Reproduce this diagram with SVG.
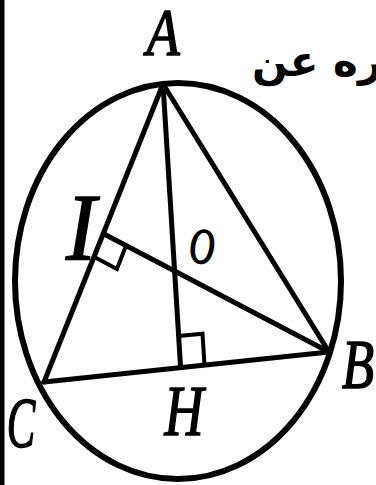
<svg xmlns="http://www.w3.org/2000/svg" width="376" height="485" viewBox="0 0 376 485">
<style>
.ln{stroke:#000;stroke-width:5;stroke-linecap:round;fill:none}
.sq{stroke:#000;stroke-width:4;fill:none;stroke-linejoin:miter}
.lbl{font-family:"Liberation Serif",serif;font-style:italic;font-weight:normal;fill:#000;stroke:#000;stroke-width:1.6;text-anchor:middle}
.ar{font-family:"DejaVu Sans",sans-serif;font-size:42px;font-weight:bold;fill:#000}
</style>
<rect width="376" height="485" fill="#fff"/>
<rect x="0" y="0" width="4.5" height="485" fill="#000"/>
<g id="circle"><ellipse cx="178" cy="281" rx="163" ry="198" fill="none" stroke="#000" stroke-width="6"/></g>
<g id="connectors">
<line class="ln" x1="163" y1="84" x2="329" y2="352"/>
<line class="ln" x1="163" y1="84" x2="44" y2="382"/>
<line class="ln" x1="44" y1="382" x2="329" y2="352"/>
<line class="ln" x1="163" y1="84" x2="180.5" y2="366"/>
<line class="ln" x1="329" y1="352" x2="104" y2="234"/>
<polyline class="sq" points="126.1,245.6 116.9,268.9 94.8,257.3"/>
<polyline class="sq" points="178.6,336.1 202.5,333.7 204.4,363.6"/>
</g>
<g id="A"><text class="lbl" transform="translate(163,55) scale(0.8,1)" font-size="68">A</text></g>
<g id="I"><text class="lbl" transform="translate(81,260) scale(0.95,1)" font-size="95">I</text></g>
<g id="O"><text class="lbl" transform="translate(202,263) scale(0.7,1)" font-size="50">O</text></g>
<g id="H"><text class="lbl" transform="translate(184,435) scale(0.75,1)" font-size="72">H</text></g>
<g id="B"><text class="lbl" transform="translate(358,388) scale(0.75,1)" font-size="70">B</text></g>
<g id="C"><text class="lbl" transform="translate(21,447) scale(0.6,1)" font-size="71">C</text></g>
<text class="ar" x="252" y="76">ره عن</text>
</svg>
